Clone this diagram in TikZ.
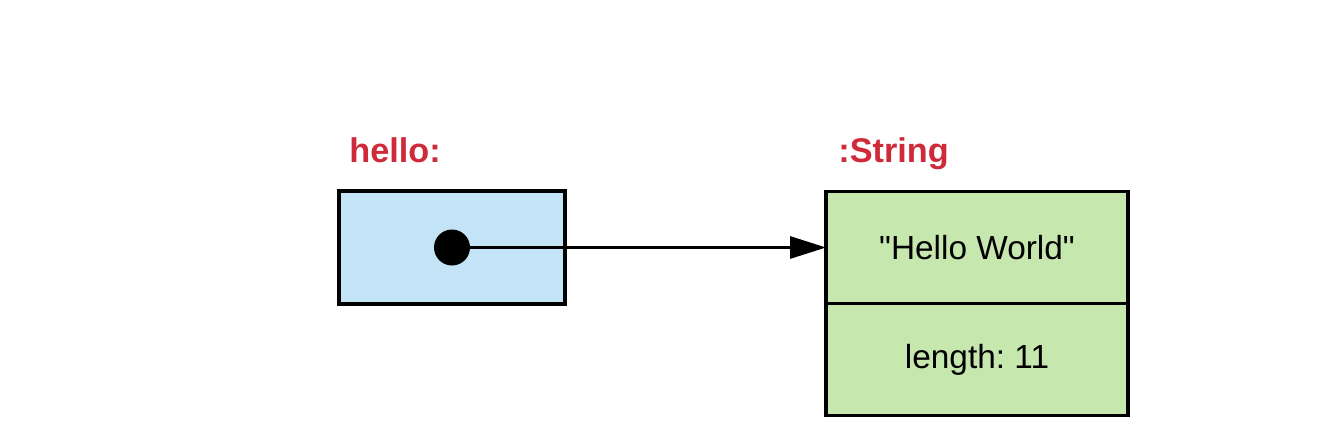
\documentclass[tikz,border=0pt]{standalone}
\usepackage{fontspec}
\setmainfont{Liberation Sans}[Ligatures=TeXOff]
\usetikzlibrary{arrows.meta,positioning,calc}
\definecolor{refblue}{RGB}{195,228,246}
\definecolor{objgreen}{RGB}{198,231,173}
\definecolor{lblred}{RGB}{206,42,58}
\frenchspacing
\tikzset{
  refbox/.style={draw=black, line width=1.8pt, fill=refblue, outer sep=0pt,
    minimum width=4.52cm, minimum height=2.26cm},
  field/.style={draw=black, line width=1.8pt, fill=objgreen, outer sep=0pt,
    minimum width=6.04cm, minimum height=2.24cm, font=\fontsize{19}{23}\selectfont},
  pin/.style={circle, fill=black, inner sep=0pt, minimum size=0.72cm},
  lbl/.style={text=lblred, inner sep=0pt, font=\fontsize{19.5}{24}\selectfont\bfseries},
  ptr/.style={draw=black, line width=1.8pt, -{Triangle[length=0.72cm, width=0.44cm]}}
}
\begin{document}
\begin{tikzpicture}[x=0.02cm, y=-0.02cm]
  \useasboundingbox[fill=white] (0,0) rectangle (1344,443);
  % reference variable
  \node[refbox] (ref) at (452,247.5) {};
  \node[pin] (dot) at (ref.center) {};
  \node[lbl, anchor=base west] (hello) at ($(ref.north west)+(10,-29)$) {hello:};
  % string object
  \node[field] (val) at (977,247.5) {"Hello World"};
  \node[field, below=0cm of val] (len) {length: 11};
  \node[lbl, anchor=base west] (cls) at ($(val.north west)+(12,-29)$) {:String};
  \draw[ptr] (dot.center) -- (val.west);
\end{tikzpicture}
\end{document}
